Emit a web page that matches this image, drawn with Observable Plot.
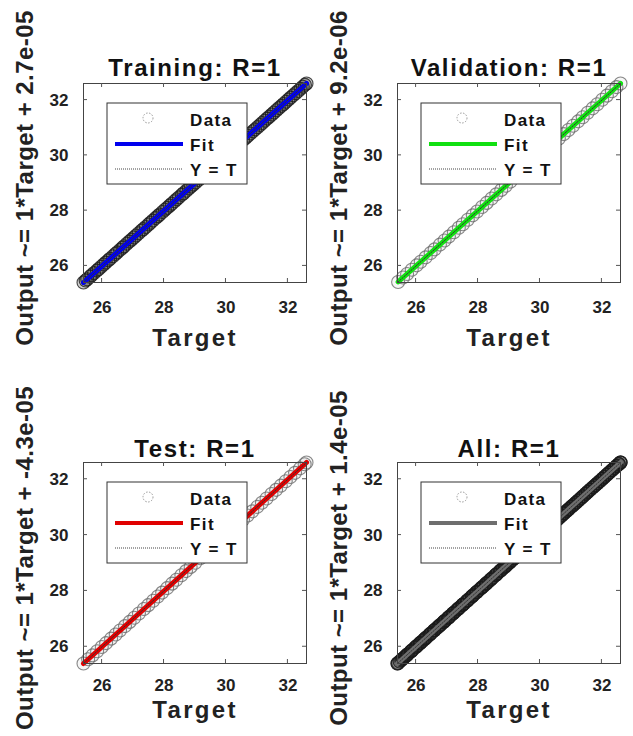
<!DOCTYPE html>
<html><head><meta charset="utf-8">
<script src="https://cdn.jsdelivr.net/npm/d3@7"></script>
<script src="https://cdn.jsdelivr.net/npm/@observablehq/plot@0.6"></script>
<style>
body{margin:0;background:#fff;}
#grid{display:grid;grid-template-columns:316px 317px;grid-template-rows:368px 368px;width:633px;height:736px;overflow:hidden;}
.cell{position:relative;}
</style></head><body><div id="grid"></div>
<script>
// ---- data (Output ≈ Target, R = 1) ----
const trainTarget = [25.40,25.47,25.52,25.61,25.66,25.74,25.83,25.89,25.97,26.05,26.12,26.20,26.26,26.35,26.43,26.49,26.58,26.66,26.71,26.80,26.88,26.95,27.03,27.10,27.18,27.27,27.33,27.41,27.50,27.56,27.64,27.73,27.80,27.86,27.95,28.03,28.10,28.18,28.25,28.34,28.41,28.48,28.57,28.63,28.72,28.80,28.87,28.94,29.02,29.11,29.17,29.26,29.33,29.40,29.49,29.56,29.63,29.71,29.80,29.86,29.94,30.03,30.10,30.17,30.26,30.33,30.41,30.48,30.56,30.64,30.71,30.79,30.87,30.94,31.02,31.10,31.17,31.25,31.33,31.40,31.48,31.55,31.63,31.71,31.79,31.86,31.94,32.02,32.09,32.17,32.25,32.33,32.41,32.48,32.55,32.60];
const valTarget = [25.42,25.58,25.71,25.86,26.02,26.15,26.31,26.47,26.60,26.77,26.92,27.06,27.22,27.38,27.51,27.67,27.83,27.97,28.13,28.28,28.44,28.59,28.75,28.90,29.05,29.21,29.36,29.52,29.68,29.83,29.99,30.14,30.30,30.45,30.61,30.77,30.92,31.07,31.23,31.38,31.54,31.70,31.85,32.01,32.16,32.32,32.47,32.60];
const testTarget = [25.40,25.55,25.69,25.84,25.99,26.13,26.29,26.44,26.58,26.74,26.89,27.04,27.19,27.35,27.49,27.65,27.80,27.94,28.10,28.26,28.40,28.56,28.71,28.86,29.01,29.17,29.32,29.47,29.63,29.78,29.93,30.09,30.24,30.39,30.55,30.70,30.85,31.01,31.16,31.31,31.47,31.62,31.77,31.93,32.08,32.23,32.39,32.54,32.60];
const allTarget = [...trainTarget, ...valTarget, ...testTarget];

const panelTitles = ["Training: R=1", "Validation: R=1", "Test: R=1", "All: R=1"];
const yLabels = ["Output ~= 1*Target + 2.7e-05", "Output ~= 1*Target + 9.2e-06", "Output ~= 1*Target + -4.3e-05", "Output ~= 1*Target + 1.4e-05"];
const fitColors = ["#0000ee", "#11e011", "#e00000", "#6e6e6e"];
const dataStroke = ["#1a1a1a", "#6a6a6a", "#6a6a6a", "#1a1a1a"];
const dataFillOpacity = [0.22, 0.06, 0.06, 0.22];
const xLabel = "Target";
const xTicks = [26, 28, 30, 32];
const yTicks = [26, 28, 30, 32];
const axisLimits = [25.4, 32.6];
const legendLabels = ["Data", "Fit", "Y = T"];

const targets = [trainTarget, valTarget, testTarget, allTarget];
const FONT = "'Liberation Sans', Arial, Helvetica, sans-serif";

const grid = document.getElementById("grid");
targets.forEach((tg, i) => {
  const col = i % 2, row = Math.floor(i / 2);
  const width = col === 0 ? 316 : 317;
  const height = 368;
  const mL = col === 0 ? 83 : 81;
  const mR = col === 0 ? 10 : 13;
  const mT = row === 0 ? 83 : 94;
  const mB = row === 0 ? 86 : 73;
  const pts = tg.map(t => ({t, o: t}));
  const svg = Plot.plot({
    width, height,
    marginLeft: mL, marginRight: mR, marginTop: mT, marginBottom: mB,
    style: {fontFamily: FONT, fontWeight: "bold", background: "#fff", color: "#222"},
    x: {domain: axisLimits, axis: null},
    y: {domain: axisLimits, axis: null},
    marks: [
      Plot.dot(pts, {x: "t", y: "o", r: 6.5, stroke: dataStroke[i], strokeWidth: 1.1, strokeOpacity: 0.8, fill: dataStroke[i], fillOpacity: dataFillOpacity[i]}),
      Plot.linearRegressionY(pts, {x: "t", y: "o", stroke: fitColors[i], strokeWidth: 5, ci: 0}),
      Plot.line(axisLimits, {x: d => d, y: d => d, stroke: "#333", strokeWidth: 1, strokeDasharray: "1.5,1.5"}),
      Plot.frame({stroke: "#444", strokeWidth: 1}),
      Plot.text(xTicks, {x: d => d, text: d => String(d), frameAnchor: "bottom", textAnchor: "middle", lineAnchor: "top", dy: row === 0 ? 18 : 15, fontSize: 17, fontWeight: "bold", fill: "#222"}),
      Plot.text(yTicks, {y: d => d, text: d => String(d), frameAnchor: "left", textAnchor: "end", lineAnchor: "middle", dx: -15, fontSize: 17, fontWeight: "bold", fill: "#222"}),
      Plot.text([panelTitles[i]], {text: d => d, frameAnchor: "top", textAnchor: "middle", lineAnchor: "bottom", dy: row === 0 ? -8 : -6, fontSize: 24, fontWeight: "bold", fill: "#111"}),
      Plot.text([xLabel], {text: d => d, frameAnchor: "bottom", textAnchor: "middle", lineAnchor: "bottom", dy: row === 0 ? 63 : 54, fontSize: 24, fontWeight: "bold", fill: "#222"}),
      Plot.text([yLabels[i]], {text: d => d, frameAnchor: "left", textAnchor: "middle", rotate: -90, dx: -58, dy: -5, fontSize: 24, fontWeight: "bold", fill: "#222"})
    ]
  });
  const root = d3.select(svg);
  // letter spacing to match the wide MATLAB rendering
  const spacing = {[panelTitles[i]]: "1.6px", [xLabel]: "2.3px", [yLabels[i]]: "0.45px"};
  root.selectAll("text").each(function() {
    const s = spacing[this.textContent];
    if (s) d3.select(this).attr("letter-spacing", s);
  });
  // inward ticks on all four sides, placed with Plot's own scales
  const sx = svg.scale("x"), sy = svg.scale("y");
  const tg2 = root.append("g").attr("stroke", "#555").attr("stroke-width", 1);
  const top = mT, bottom = height - mB, left = mL, right = width - mR;
  xTicks.forEach(v => {
    const x = sx.apply(v);
    tg2.append("line").attr("x1", x).attr("x2", x).attr("y1", bottom).attr("y2", bottom - 4);
    tg2.append("line").attr("x1", x).attr("x2", x).attr("y1", top).attr("y2", top + 4);
  });
  yTicks.forEach(v => {
    const y = sy.apply(v);
    tg2.append("line").attr("y1", y).attr("y2", y).attr("x1", left).attr("x2", left + 4);
    tg2.append("line").attr("y1", y).attr("y2", y).attr("x1", right).attr("x2", right - 4);
  });
  // legend box (MATLAB-style, inside axes at north-west)
  const lx = mL + 24, ly = mT + 20;
  const g = root.append("g").attr("transform", `translate(${lx},${ly})`)
    .attr("font-family", FONT).attr("font-weight", "bold").attr("font-size", 17).attr("fill", "#111").attr("text-anchor", "start");
  g.append("rect").attr("width", 140).attr("height", 81).attr("fill", "#fff").attr("stroke", "#333").attr("stroke-width", 1);
  g.append("circle").attr("cx", 41).attr("cy", 15).attr("r", 5).attr("fill", "none").attr("stroke", "#999").attr("stroke-dasharray", "1.5,1.5");
  g.append("line").attr("x1", 8).attr("x2", 76).attr("y1", 41).attr("y2", 41).attr("stroke", fitColors[i]).attr("stroke-width", 4);
  g.append("line").attr("x1", 8).attr("x2", 76).attr("y1", 66).attr("y2", 66).attr("stroke", "#444").attr("stroke-width", 1).attr("stroke-dasharray", "1,1");
  legendLabels.forEach((lab, k) => {
    g.append("text").attr("x", 83).attr("y", [23, 48, 73][k]).attr("letter-spacing", "1.4px").text(lab);
  });
  const cell = document.createElement("div");
  cell.className = "cell";
  cell.appendChild(svg);
  grid.appendChild(cell);
});
</script>
</body></html>
